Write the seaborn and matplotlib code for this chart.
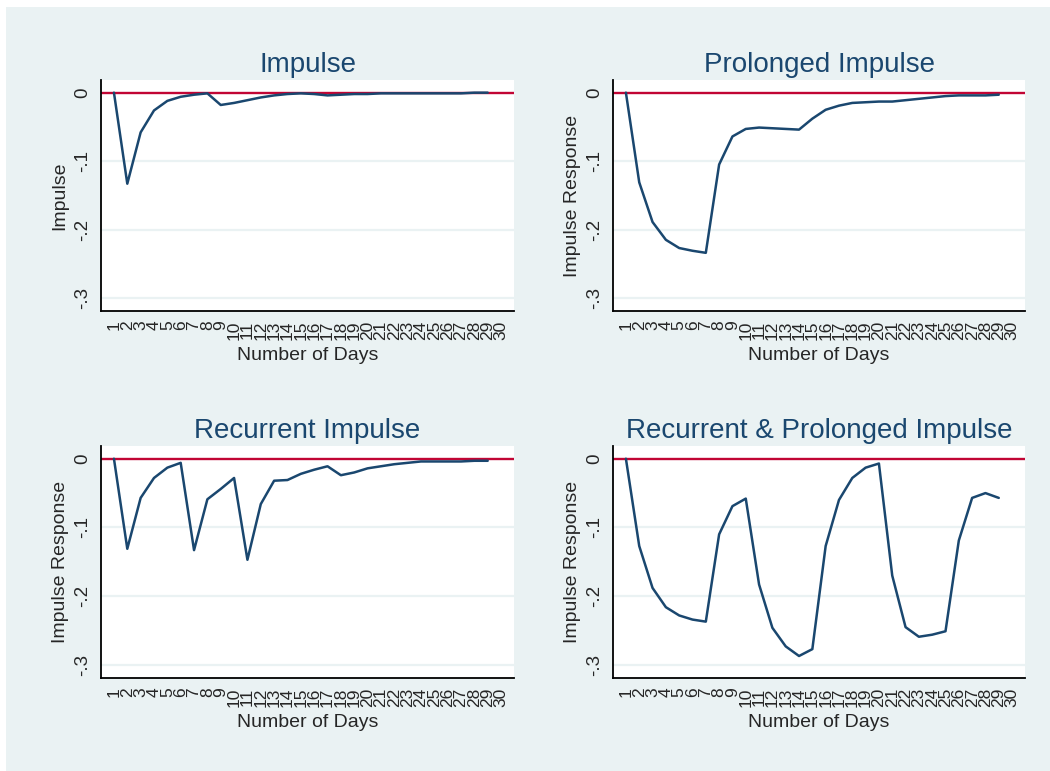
import numpy as np
import pandas as pd
import matplotlib
matplotlib.use("Agg")
import matplotlib.pyplot as plt
import seaborn as sns
from matplotlib.patches import Rectangle

# Days on the x axis (responses plotted for 1..29, ticks to 30)
days = list(range(1, 30))
tick_days = list(range(1, 31))

# Impulse responses
impulse = [0, -0.133, -0.058, -0.026, -0.012, -0.006, -0.003, -0.001, -0.018, -0.015,
           -0.011, -0.007, -0.004, -0.002, -0.001, -0.002, -0.004, -0.003, -0.002, -0.002,
           -0.001, -0.001, -0.001, -0.001, -0.001, -0.001, -0.001, 0, 0]
prolonged = [0, -0.131, -0.189, -0.215, -0.227, -0.231, -0.234, -0.105, -0.064, -0.053,
             -0.051, -0.052, -0.053, -0.054, -0.038, -0.025, -0.019, -0.015, -0.014, -0.013,
             -0.013, -0.011, -0.009, -0.007, -0.005, -0.004, -0.004, -0.004, -0.003]
recurrent = [0, -0.131, -0.057, -0.028, -0.013, -0.006, -0.133, -0.059, -0.044, -0.028,
             -0.147, -0.066, -0.032, -0.031, -0.022, -0.016, -0.011, -0.024, -0.020, -0.014,
             -0.011, -0.008, -0.006, -0.004, -0.004, -0.004, -0.004, -0.003, -0.003]
rec_prolonged = [0, -0.127, -0.188, -0.216, -0.228, -0.234, -0.237, -0.110, -0.069, -0.058,
                 -0.183, -0.246, -0.273, -0.287, -0.277, -0.127, -0.060, -0.028, -0.013, -0.007,
                 -0.170, -0.245, -0.259, -0.256, -0.251, -0.119, -0.057, -0.050, -0.057]

titles = ["Impulse", "Prolonged Impulse", "Recurrent Impulse", "Recurrent & Prolonged Impulse"]
ylabels = ["Impulse", "Impulse Response", "Impulse Response", "Impulse Response"]
series = [impulse, prolonged, recurrent, rec_prolonged]
y_ticks = [0, -0.1, -0.2, -0.3]
y_ticklabels = ["0", "-.1", "-.2", "-.3"]

sns.set_style("white")
plt.rcParams['font.family'] = ['Liberation Sans', 'DejaVu Sans']

navy = "#1A476F"
red = "#C10534"
bg = "#EAF2F3"

fig = plt.figure(figsize=(10.5, 7.71), dpi=100)
fig.patch.set_facecolor("white")
fig.patches.append(Rectangle((6 / 1050, 0), 1, 1 - 7 / 771, transform=fig.transFigure,
                             facecolor=bg, edgecolor="none", zorder=-10))

W, H = 1050, 771
# axes boxes in pixels: left, top, right, bottom
boxes = [(101, 80, 514, 311), (613, 80, 1025, 311),
         (101, 446, 514, 678), (613, 446, 1025, 678)]

for i, (l, t, r, b) in enumerate(boxes):
    ax = fig.add_axes([l / W, 1 - b / H, (r - l) / W, (b - t) / H])
    ax.set_facecolor("white")
    for y in y_ticks[1:]:
        ax.axhline(y, color=bg, lw=1.6, zorder=0)
    ax.axhline(0, color=red, lw=1.7, zorder=1)
    df = pd.DataFrame({"day": days, "resp": series[i]})
    sns.lineplot(data=df, x="day", y="resp", ax=ax, color=navy, lw=1.8, zorder=2)
    ax.set_xlim(0.03, 30.97)
    ax.set_ylim(-0.319, 0.0185)
    ax.set_xticks(tick_days)
    ax.set_xticklabels([str(d) for d in tick_days], rotation=90, fontsize=12.5)
    ax.set_yticks(y_ticks)
    ax.set_yticklabels(y_ticklabels, rotation=90, va="center", fontsize=13.5)
    ax.tick_params(axis="both", direction="out", length=5, width=1.1, color="black", pad=2)
    for s in ["top", "right"]:
        ax.spines[s].set_visible(False)
    for s in ["left", "bottom"]:
        ax.spines[s].set_color("black")
        ax.spines[s].set_linewidth(1.3)
    ax.set_xlabel("Number of Days", fontsize=14, labelpad=5)
    ax.set_ylabel(ylabels[i], fontsize=14, labelpad=4)
    ax.set_title(titles[i], color=navy, fontsize=20, pad=6)

fig.savefig("out.png", dpi=100)
